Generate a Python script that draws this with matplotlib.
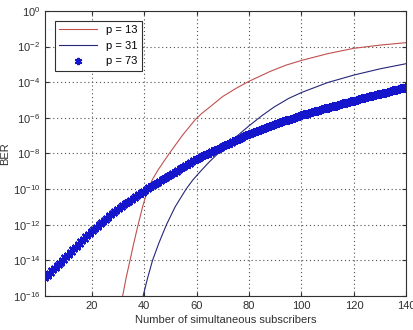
import numpy as np
import matplotlib
matplotlib.use('Agg')
import matplotlib.pyplot as plt

plt.rcParams['font.family'] = ['Liberation Sans', 'DejaVu Sans']
plt.rcParams['mathtext.default'] = 'regular'

# p = 13 (log10 BER)
x13 = [31, 31.8, 33.1, 34.6, 36.1, 37.7, 39.4, 40.4, 41.5, 42.3, 43.2, 45.2, 47.4,
       49.6, 54.5, 59.5, 62, 65, 70, 75, 80, 88, 94, 100, 110, 120, 130, 140]
log13 = [-17, -16, -15, -14, -13, -12, -11, -10.5, -10.0, -9.72, -9.45, -8.95, -8.47,
         -8.0, -7.0, -6.1, -5.75, -5.4, -4.8, -4.35, -3.95, -3.4, -3.05, -2.78,
         -2.4, -2.1, -1.92, -1.78]

# p = 31
x31 = [39, 39.6, 41.3, 43.2, 45.7, 48.5, 51.8, 56, 58.5, 61.5, 65, 68.2, 72, 76,
       80, 85, 89.5, 95, 100, 110, 120, 130, 140]
log31 = [-17, -16, -15, -14, -13, -12, -11, -10, -9.5, -9.0, -8.45, -8.0, -7.45,
         -6.95, -6.45, -5.87, -5.4, -4.92, -4.58, -4.02, -3.6, -3.25, -2.96]

# p = 73, one marker per subscriber count 2..140
x73 = list(range(2, 141))
log73 = [-15.00, -14.85, -14.71, -14.56, -14.41, -14.26, -14.12, -13.97, -13.82,
         -13.68, -13.53, -13.38, -13.23, -13.09, -12.94, -12.79, -12.65, -12.50,
         -12.35,
         -12.22, -12.10, -11.97, -11.85, -11.72, -11.60, -11.47, -11.35, -11.22,
         -11.10,
         -11.00, -10.90, -10.80, -10.70, -10.60, -10.50, -10.40, -10.30, -10.20,
         -10.10, -10.00,
         -9.91, -9.82, -9.73, -9.64, -9.55, -9.46, -9.37, -9.28, -9.19, -9.10,
         -9.02, -8.93, -8.84, -8.75, -8.66, -8.57, -8.48, -8.39, -8.30,
         -8.23, -8.16, -8.09, -8.02, -7.95, -7.88, -7.81, -7.74, -7.67, -7.60,
         -7.53, -7.46, -7.39, -7.32, -7.25, -7.18, -7.11, -7.04, -6.97, -6.90,
         -6.84, -6.78, -6.72, -6.66, -6.60, -6.55, -6.50, -6.45, -6.40, -6.35,
         -6.30, -6.25, -6.20, -6.15, -6.10, -6.05, -6.00, -5.95, -5.90, -5.85,
         -5.80, -5.76, -5.72, -5.68, -5.64, -5.59, -5.55, -5.51, -5.47, -5.43,
         -5.39, -5.35, -5.31, -5.27, -5.23, -5.19, -5.15, -5.11, -5.07, -5.03,
         -4.99, -4.95, -4.91, -4.87, -4.84, -4.80, -4.76, -4.73, -4.69, -4.66,
         -4.62, -4.58, -4.54, -4.50, -4.46, -4.42, -4.38, -4.34, -4.30, -4.26,
         -4.22, -4.18, -4.14, -4.10]

labels = ['p = 13', 'p = 31', 'p = 73']
yticks = [1e-16, 1e-14, 1e-12, 1e-10, 1e-8, 1e-6, 1e-4, 1e-2, 1e0]
ytick_labels = ['$10^{-16}$', '$10^{-14}$', '$10^{-12}$', '$10^{-10}$', '$10^{-8}$',
                '$10^{-6}$', '$10^{-4}$', '$10^{-2}$', '$10^{0}$']
xticks = [20, 40, 60, 80, 100, 120, 140]

fig = plt.figure(figsize=(4.13, 3.30), dpi=100)
ax = fig.add_axes([0.109, 0.103, 0.875, 0.864])

ax.semilogy(x13, 10.0 ** np.array(log13), color='#c05050', lw=0.8, label=labels[0])
ax.semilogy(x31, 10.0 ** np.array(log31), color='#26267a', lw=0.8, label=labels[1])
ax.semilogy(x73, 10.0 ** np.array(log73[:len(x73)]), color='#1515cc', ls='none',
            marker=(6, 2, 0), ms=6.5, mew=1.5, label=labels[2])

ax.set_xlim(2.2, 140)
ax.set_ylim(1e-16, 1e0)
ax.set_xticks(xticks)
ax.set_yticks(yticks)
ax.set_yticklabels(ytick_labels)
ax.yaxis.set_minor_locator(matplotlib.ticker.NullLocator())
ax.tick_params(which='both', direction='in', top=True, right=True, length=3,
               labelsize=8, colors='#303030')
ax.grid(True, ls=(0, (1, 2.5)), color='#505050', lw=0.8)
for s in ax.spines.values():
    s.set_color('#303030')

ax.set_xlabel('Number of simultaneous subscribers', fontsize=8, color='#303030', labelpad=3)
ax.set_ylabel('BER', fontsize=8, color='#303030', labelpad=2)

leg = ax.legend(loc='upper left', fontsize=8, frameon=True, fancybox=False,
                edgecolor='#303030', framealpha=1, handlelength=3.4,
                borderaxespad=0.9, labelspacing=0.5, borderpad=0.4,
                markerscale=0.8)
leg.get_frame().set_linewidth(0.8)

fig.savefig('out.png', dpi=100)
